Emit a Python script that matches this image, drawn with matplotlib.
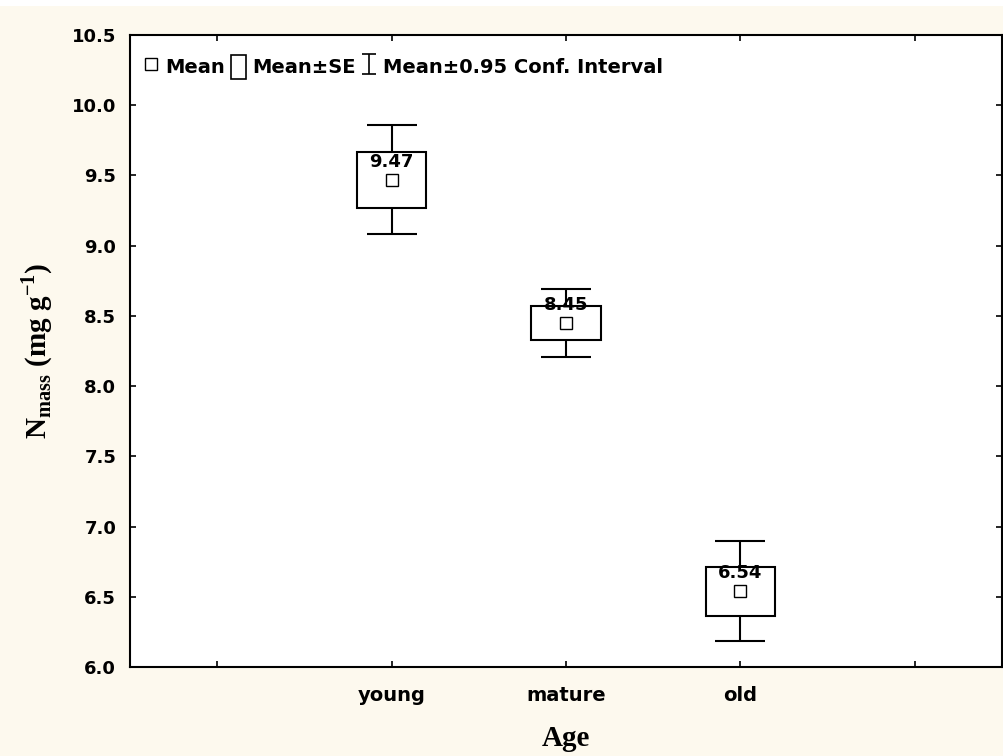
import matplotlib
matplotlib.use("Agg")
import matplotlib.pyplot as plt
import numpy as np
from matplotlib.lines import Line2D
from matplotlib.patches import Rectangle

# values
groups = ["young", "mature", "old"]
means = [9.47, 8.45, 6.54]
se = [0.20, 0.12, 0.175]
ci95 = [0.39, 0.245, 0.355]
pos = [1, 2, 3]

sans = "DejaVu Sans"
serif = "Liberation Serif"

fig = plt.figure(figsize=(10.04, 7.56), dpi=100, facecolor="#fdf9ee")
# thin white strip along the top edge
fig.patches.append(Rectangle((0, 0.992), 1, 0.008, transform=fig.transFigure,
                             facecolor="white", edgecolor="none"))
ax = fig.add_axes([0.1295, 0.1177, 0.8685, 0.836])
ax.set_facecolor("white")

box_w = 0.40
for x, m, s, c in zip(pos, means, se, ci95):
    ax.add_patch(Rectangle((x - box_w / 2, m - s), box_w, 2 * s,
                           facecolor="white", edgecolor="black", lw=1.5, zorder=2))
    ax.errorbar(x, m, yerr=c, fmt="none", ecolor="black", elinewidth=1.5,
                capsize=18, capthick=1.5, zorder=1)
    ax.plot(x, m, marker="s", ms=9, mfc="white", mec="black", mew=1.0, ls="none", zorder=3)
    ax.annotate(f"{m:.2f}", (x, m), xytext=(0, 13), textcoords="offset points",
                ha="center", va="center", fontsize=13, fontweight="bold",
                family=sans, zorder=4)

ax.set_xlim(-0.5, 4.5)
ax.set_ylim(6.0, 10.5)
ax.set_xticks([0, 1, 2, 3, 4])
ax.set_xticklabels([""] + groups + [""])
ax.set_yticks([6.0 + 0.5 * i for i in range(10)])
ax.yaxis.set_major_formatter(matplotlib.ticker.FormatStrFormatter("%.1f"))
ax.tick_params(direction="in", length=4, width=1.2, top=True, right=True,
               labelsize=13, pad=10)
ax.tick_params(axis="x", pad=14, labelsize=14)
for lab in ax.get_xticklabels() + ax.get_yticklabels():
    lab.set_fontweight("bold")
    lab.set_family(sans)
for sp in ax.spines.values():
    sp.set_linewidth(1.5)

ax.set_xlabel("Age", family=serif, fontweight="bold", fontsize=21, labelpad=14)
ax.set_ylabel(r"N$_{\mathregular{mass}}$ (mg g$^{\mathregular{-1}}$)",
              family=serif, fontweight="bold", fontsize=21, labelpad=12)

# legend handles
h_mean = Line2D([], [], marker="s", ms=8, mfc="white", mec="black", ls="none")
h_se = Rectangle((0, 0), 1, 1, facecolor="white", edgecolor="black", lw=1.2)
h_ci = ax.errorbar([np.nan], [np.nan], yerr=[1], fmt="none", ecolor="black",
                   elinewidth=1.2, capsize=5, capthick=1.2)
leg = ax.legend([h_mean, h_se, h_ci], ["Mean", "Mean±SE", "Mean±0.95 Conf. Interval"],
                loc="upper left", ncol=3, frameon=False, handlelength=0.8, handleheight=1.5,
                handletextpad=0.3, columnspacing=0.3, borderaxespad=0.3,
                bbox_to_anchor=(0.0, 0.99),
                prop={"family": sans, "weight": "bold", "size": 14})

fig.savefig("out.png", dpi=100, facecolor=fig.get_facecolor())
